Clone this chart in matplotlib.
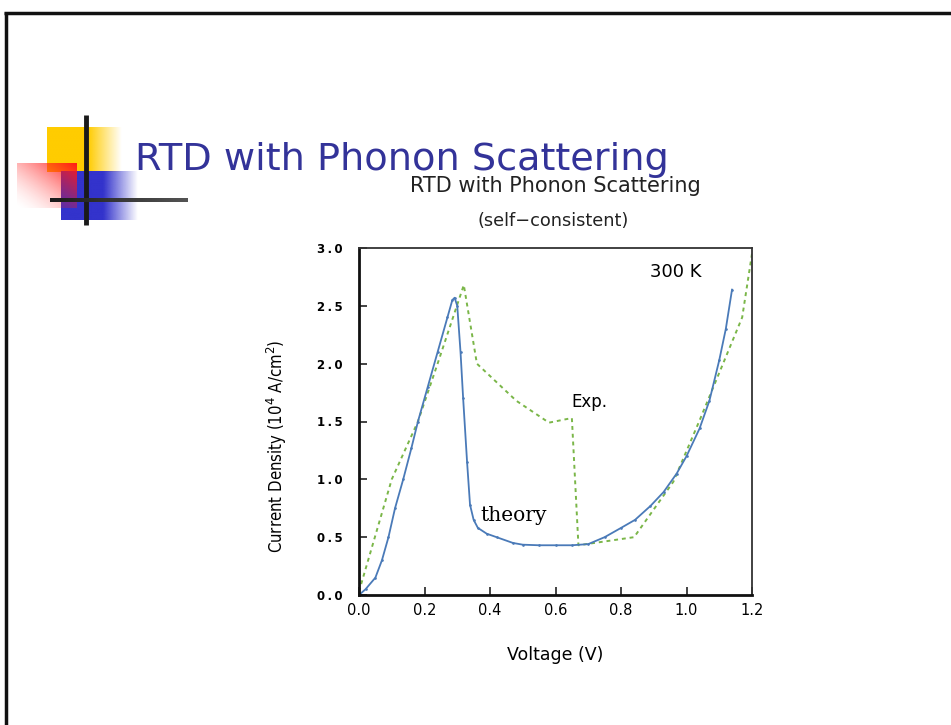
import numpy as np
import matplotlib.pyplot as plt

# measured I-V (dotted) and simulated curve (solid), voltage in V, current in 1e4 A/cm^2
exp_v = [0.0, 0.10, 0.18, 0.24, 0.32, 0.36, 0.48, 0.58, 0.65, 0.67, 0.84, 0.96, 1.04, 1.17, 1.20]
exp_j = [0.03, 1.00, 1.50, 2.00, 2.68, 2.00, 1.68, 1.49, 1.53, 0.43, 0.50, 0.98, 1.51, 2.40, 2.95]

theory_v = [0.0, 0.02, 0.05, 0.07, 0.09, 0.11, 0.135, 0.16, 0.18, 0.21, 0.24, 0.27, 0.285, 0.292,
            0.30, 0.31, 0.318, 0.33, 0.339, 0.35, 0.363, 0.39, 0.42, 0.47, 0.50, 0.55, 0.60,
            0.65, 0.70, 0.75, 0.80, 0.843, 0.89, 0.93, 0.97, 1.0, 1.04, 1.07, 1.10, 1.12, 1.139]
theory_j = [0.0, 0.05, 0.15, 0.30, 0.50, 0.75, 1.00, 1.27, 1.50, 1.80, 2.10, 2.40, 2.55, 2.57,
            2.50, 2.10, 1.70, 1.15, 0.78, 0.65, 0.58, 0.53, 0.50, 0.45, 0.435, 0.43, 0.43,
            0.43, 0.44, 0.50, 0.58, 0.65, 0.77, 0.89, 1.05, 1.20, 1.44, 1.68, 2.03, 2.30, 2.64]

x_ticks = [0.0, 0.2, 0.4, 0.6, 0.8, 1.0, 1.2]
y_ticks = [0.0, 0.5, 1.0, 1.5, 2.0, 2.5, 3.0]

W, H = 951, 725
fig = plt.figure(figsize=(W / 100, H / 100), dpi=100)
fig.patch.set_facecolor('white')

# slide layer in pixel coordinates
bg = fig.add_axes([0, 0, 1, 1])
bg.axis('off')

# slide frame
bg.plot([5.5, 5.5], [12, H], color='#111111', lw=2.5, solid_capstyle='butt')
bg.plot([4, W], [13, 13], color='#111111', lw=2.5, solid_capstyle='butt')


def grad_box(x0, x1, y0, y1, rgb, solid=0.55, diag=False, z=2):
    n = 200
    t = np.linspace(0, 1, n)
    if diag:
        xx, yy = np.meshgrid(t, t)
        a = np.clip((xx + (1 - yy)) / 2, 0, 1) ** 1.6
    else:
        a = np.where(t < solid, 1.0, 1 - (t - solid) / (1 - solid))
        a = np.tile(a, (n, 1))
    img = np.zeros((n, n, 4))
    img[..., :3] = rgb
    img[..., 3] = a
    bg.imshow(img, extent=(x0, x1, y1, y0), origin='upper', aspect='auto',
              interpolation='bilinear', zorder=z)


grad_box(47, 122, 127, 172, (1.0, 0.8, 0.0), solid=0.55)
grad_box(61, 138, 171, 220, (0.2, 0.2, 0.8), solid=0.55)
grad_box(17, 77, 163, 208, (1.0, 0.1, 0.1), diag=True)

# dark cross: vertical bar plus a horizontal bar shading to grey
bg.plot([86, 86], [115, 225], color='#1a1a1a', lw=3.5, solid_capstyle='butt', zorder=3)
bar = np.linspace(0.1, 0.33, 200)
bar_img = np.tile(np.stack([bar, bar, bar], axis=-1), (4, 1, 1))
bg.imshow(bar_img, extent=(50, 188, 202, 198), origin='upper', aspect='auto',
          interpolation='bilinear', zorder=3)
bg.set_xlim(0, W)
bg.set_ylim(H, 0)

fig.text(135 / W, 1 - 160 / H, 'RTD with Phonon Scattering', color='#333399',
         fontsize=27.5, family='DejaVu Sans', va='center', ha='left')

# chart titles
fig.text(555 / W, 1 - 186 / H, 'RTD with Phonon Scattering', fontsize=15,
         family='DejaVu Sans', ha='center', va='center', color='#222222')
fig.text(553 / W, 1 - 221 / H, '(self\u2212consistent)', fontsize=12.8,
         family='DejaVu Sans', ha='center', va='center', color='#222222')

ax = fig.add_axes([359 / W, 1 - 595 / H, (752 - 359) / W, (595 - 248) / H])
ax.plot(exp_v, exp_j, color='#7ab648', lw=1.4, ls=(0, (2, 2)))
ax.plot(theory_v, theory_j, color='#4a7ab8', lw=1.3, marker='.', markersize=1.8)

ax.set_xlim(0, 1.2)
ax.set_ylim(0, 3.0)
ax.set_xticks(x_ticks)
ax.set_yticks(y_ticks)
ax.set_xticklabels([f'{v:.1f}' for v in x_ticks], fontsize=10.5, family='DejaVu Sans')
ax.set_yticklabels(['\u2009'.join(f'{v:.1f}') for v in y_ticks], fontsize=8.5,
                   family='DejaVu Sans', fontweight='bold')
ax.tick_params(direction='in', length=6, width=1.2, color='#222222', pad=6)
ax.tick_params(axis='y', pad=12)
for side in ['left', 'bottom']:
    ax.spines[side].set_linewidth(2)
    ax.spines[side].set_color('#111111')
for side in ['top', 'right']:
    ax.spines[side].set_linewidth(1.3)
    ax.spines[side].set_color('#333333')

ax.set_xlabel('Voltage (V)', fontsize=12.5, family='DejaVu Sans', labelpad=20)
ax.set_ylabel('Current Density (10$^4$ A/cm$^2$)', fontsize=12,
              family='DejaVu Sans', fontstretch='condensed')
ax.yaxis.set_label_coords(-0.178, 0.43)

ax.text(0.889, 2.79, '300 K', fontsize=13, family='DejaVu Sans', va='center')
ax.text(0.647, 1.67, 'Exp.', fontsize=12, family='DejaVu Sans', va='center')
ax.text(0.37, 0.69, 'theory', fontsize=14.5, family='DejaVu Serif', va='center')

fig.savefig('out.png', dpi=100)
